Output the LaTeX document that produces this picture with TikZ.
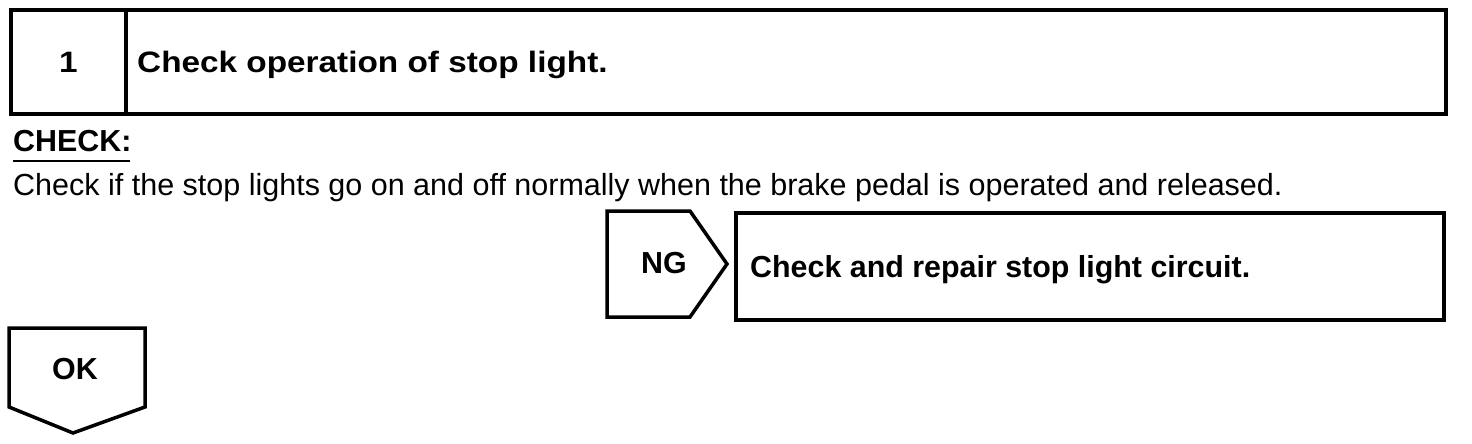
\documentclass[tikz,border=0pt]{standalone}
\usepackage{fontspec}
\setmainfont{Liberation Sans}
\newfontfamily\titlefont{Liberation Sans}[FakeStretch=1.13]

\begin{document}
\begin{tikzpicture}[x=1pt, y=-1pt,
    boxline/.style={line width=3.5pt, line join=miter},
    bodytext/.style={inner sep=0pt, font=\fontsize{30.5}{36}\selectfont},
    boldtext/.style={inner sep=0pt, font=\fontsize{30.4}{36}\selectfont\bfseries},
    titletext/.style={inner sep=0pt, font=\titlefont\fontsize{29.5}{36}\selectfont\bfseries}]
    \useasboundingbox (0,0) rectangle (1472,444);

    % Step header
    \draw[boxline] (11,10) rectangle (1446,114);
    \draw[boxline] (126,10) -- (126,114);
    \node[titletext, anchor=base] (stepno) at (68.5,72) {1};
    \node[titletext, anchor=base west] (steptitle) at (137,72) {Check operation of stop light.};

    % Check text
    \node[boldtext, anchor=base west] (checkhead) at (13,151) {CHECK:};
    \draw[line width=2pt] (13,161) -- (130,161);
    \node[bodytext, anchor=base west] (checkbody) at (13,195)
        {Check if the stop lights go on and off normally when the brake pedal is operated and released.};

    % NG branch
    \draw[boxline] (607,211) -- (690,211) -- (727,264) -- (690,317) -- (607,317) -- cycle;
    \node[boldtext, anchor=base] (ng) at (664,273) {NG};
    \draw[boxline] (736,213) rectangle (1444,320);
    \node[boldtext, anchor=base west] (repair) at (750,277) {Check and repair stop light circuit.};

    % OK branch
    \draw[boxline] (9,328) -- (145,328) -- (145,407) -- (73,433) -- (9,407) -- cycle;
    \node[boldtext, anchor=base] (ok) at (75,379) {OK};
\end{tikzpicture}
\end{document}
